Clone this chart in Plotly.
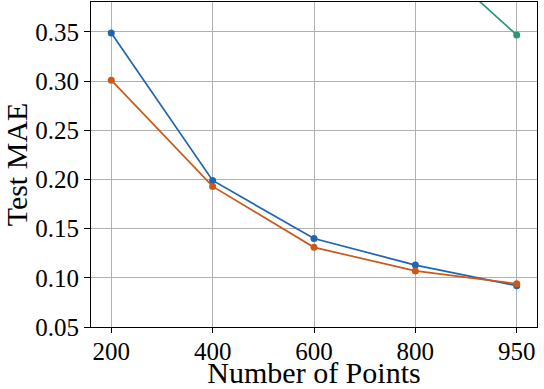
import plotly.graph_objects as go

num_points = ["200", "400", "600", "800", "950"]
blue_mae = [0.349, 0.199, 0.140, 0.113, 0.092]
orange_mae = [0.301, 0.193, 0.131, 0.107, 0.094]
green_mae = [0.95, 0.75, 0.57, 0.44, 0.347]
y_ticks = [0.05, 0.10, 0.15, 0.20, 0.25, 0.30, 0.35]

x_idx = list(range(len(num_points)))

fig = go.Figure()
for vals, col in [(green_mae, "#2a9a6e"), (blue_mae, "#1f65ad"), (orange_mae, "#c95a1b")]:
    fig.add_trace(go.Scatter(x=x_idx, y=vals, mode="lines+markers",
                             line=dict(color=col, width=1.7),
                             marker=dict(color=col, size=7),
                             showlegend=False, cliponaxis=True))

font = "Liberation Serif, Times New Roman, serif"
fig.update_layout(
    width=544, height=389,
    margin=dict(l=91, r=7, t=2, b=62),
    plot_bgcolor="white", paper_bgcolor="white",
    font=dict(family=font, color="black", size=25),
)
fig.update_xaxes(
    tickmode="array", tickvals=x_idx, ticktext=num_points,
    range=[-0.2, 4.2], automargin=False,
    showgrid=True, gridcolor="#b0b0b0", gridwidth=1,
    showline=True, linecolor="black", linewidth=1.2, mirror=True,
    ticks="outside", ticklen=5, tickcolor="black",
    ticklabelstandoff=-3,
    tickfont=dict(size=25, family=font),
    title=dict(text="Number of Points", font=dict(size=30, family=font), standoff=4),
    zeroline=False,
)
fig.update_yaxes(
    tickmode="array", tickvals=y_ticks, ticktext=[f"{v:.2f}" for v in y_ticks],
    range=[0.05, 0.3805], automargin=False,
    showgrid=True, gridcolor="#b0b0b0", gridwidth=1,
    showline=True, linecolor="black", linewidth=1.2, mirror=True,
    ticks="outside", ticklen=6, tickcolor="black",
    tickfont=dict(size=25, family=font),
    title=dict(text="Test MAE", font=dict(size=30, family=font), standoff=4),
    zeroline=False,
)
fig.write_html("out.html", config={"displayModeBar": False},
               post_script="document.body.style.margin='0';")
